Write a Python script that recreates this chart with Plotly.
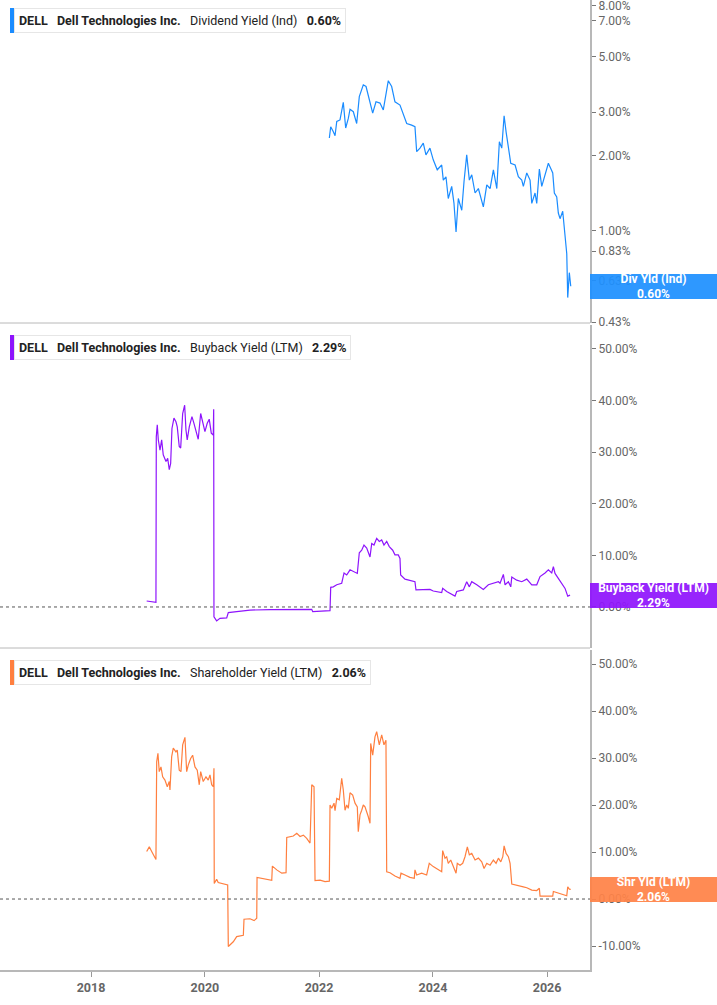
import math
import plotly.graph_objects as go
from datetime import datetime

# ---------------- data (decimal-year dates, values in %) ----------------
div_t = [2022.181, 2022.205, 2022.251, 2022.281, 2022.311, 2022.368, 2022.426, 2022.468, 2022.514, 2022.544,
         2022.602, 2022.661, 2022.707, 2022.777, 2022.825, 2022.865, 2022.942, 2023.000, 2023.070, 2023.128,
         2023.175, 2023.216, 2023.275, 2023.333, 2023.421, 2023.479, 2023.539, 2023.626, 2023.684, 2023.714,
         2023.772, 2023.830, 2023.877, 2023.947, 2024.005, 2024.075, 2024.153, 2024.181, 2024.228, 2024.268,
         2024.328, 2024.368, 2024.404, 2024.444, 2024.504, 2024.544, 2024.591, 2024.637, 2024.679, 2024.737,
         2024.795, 2024.882, 2024.942, 2025.000, 2025.058, 2025.118, 2025.163, 2025.205, 2025.246, 2025.281,
         2025.321, 2025.363, 2025.439, 2025.496, 2025.556, 2025.584, 2025.644, 2025.702, 2025.732, 2025.789,
         2025.819, 2025.865, 2025.907, 2025.965, 2026.023, 2026.065, 2026.100, 2026.128, 2026.170, 2026.198,
         2026.228, 2026.275, 2026.316, 2026.346, 2026.363, 2026.391, 2026.416]
div_v = [2.36, 2.62, 2.50, 2.41, 2.75, 2.79, 3.28, 2.59, 2.83, 3.08,
         3.01, 2.70, 3.46, 3.86, 3.80, 3.46, 2.97, 3.30, 3.26, 3.06,
         3.57, 4.01, 3.80, 3.30, 3.20, 2.92, 2.70, 2.66, 2.62, 2.08,
         2.15, 2.25, 2.02, 2.15, 1.93, 1.76, 1.84, 1.60, 1.65, 1.35,
         1.51, 1.29, 0.99, 1.35, 1.21, 1.58, 2.02, 1.60, 1.68, 1.42,
         1.48, 1.25, 1.53, 1.48, 1.76, 1.48, 2.28, 2.15, 2.90, 2.50,
         2.21, 1.87, 1.84, 1.65, 1.60, 1.51, 1.71, 1.60, 1.29, 1.42,
         1.29, 1.77, 1.51, 1.68, 1.87, 1.78, 1.71, 1.42, 1.37, 1.18,
         1.12, 1.20, 0.98, 0.81, 0.54, 0.68, 0.60]

bb_t = [2018.977, 2019.140, 2019.146, 2019.163, 2019.181, 2019.211, 2019.240, 2019.268, 2019.316, 2019.346,
        2019.374, 2019.398, 2019.421, 2019.456, 2019.491, 2019.514, 2019.549, 2019.574, 2019.609, 2019.644,
        2019.667, 2019.689, 2019.725, 2019.772, 2019.807, 2019.842, 2019.882, 2019.925, 2019.960, 2020.000,
        2020.040, 2020.075, 2020.111, 2020.146, 2020.153, 2020.158, 2020.205, 2020.263, 2020.381, 2020.409,
        2020.556, 2020.789, 2021.140, 2021.667, 2021.872, 2021.889, 2022.193, 2022.205, 2022.251, 2022.311,
        2022.398, 2022.439, 2022.486, 2022.544, 2022.632, 2022.672, 2022.707, 2022.749, 2022.789, 2022.837,
        2022.895, 2022.925, 2022.965, 2023.012, 2023.058, 2023.100, 2023.140, 2023.188, 2023.233, 2023.293,
        2023.333, 2023.391, 2023.421, 2023.433, 2023.509, 2023.596, 2023.684, 2023.702, 2023.830, 2023.947,
        2024.005, 2024.153, 2024.170, 2024.240, 2024.386, 2024.416, 2024.532, 2024.591, 2024.637, 2024.679,
        2024.767, 2024.882, 2024.970, 2025.058, 2025.146, 2025.175, 2025.233, 2025.263, 2025.321, 2025.363,
        2025.381, 2025.468, 2025.556, 2025.644, 2025.732, 2025.819, 2025.877, 2025.965, 2026.023, 2026.082,
        2026.111, 2026.140, 2026.198, 2026.258, 2026.316, 2026.363, 2026.404]
bb_v = [1.16, 0.9, 33.0, 35.3, 32.4, 30.4, 32.4, 29.5, 28.2, 28.8,
        26.6, 27.8, 34.6, 36.6, 35.9, 34.9, 31.1, 30.8, 37.5, 39.1,
        34.3, 32.4, 34.9, 36.9, 35.6, 34.0, 32.5, 37.5, 35.6, 34.0,
        35.6, 36.4, 33.7, 33.3, 38.3, -1.9, -2.7, -2.2, -2.1, -1.1,
        -0.9, -0.6, -0.5, -0.45, -0.45, -0.9, -0.7, 3.8, 3.9, 4.3,
        4.6, 6.6, 6.2, 7.2, 6.8, 6.5, 10.5, 11.0, 12.0, 11.4,
        9.7, 12.3, 12.0, 13.3, 12.7, 13.0, 12.0, 12.7, 11.7, 11.0,
        10.1, 10.1, 9.4, 6.2, 5.4, 5.2, 4.9, 3.3, 3.3, 3.4,
        3.1, 2.8, 3.6, 3.0, 2.1, 3.0, 3.3, 4.9, 3.9, 4.9,
        4.3, 3.4, 4.3, 4.6, 4.9, 4.6, 6.3, 4.3, 4.9, 3.9,
        5.8, 5.2, 4.9, 5.4, 4.3, 4.3, 5.9, 6.6, 7.2, 6.6,
        7.8, 6.5, 5.6, 4.6, 3.6, 2.1, 2.29]

sh_t = [2018.977, 2019.023, 2019.065, 2019.140, 2019.153, 2019.175, 2019.198, 2019.228, 2019.258, 2019.298,
        2019.339, 2019.374, 2019.386, 2019.416, 2019.444, 2019.491, 2019.514, 2019.549, 2019.579, 2019.609,
        2019.649, 2019.679, 2019.707, 2019.749, 2019.784, 2019.825, 2019.865, 2019.900, 2019.925, 2019.970,
        2020.018, 2020.058, 2020.088, 2020.118, 2020.146, 2020.158, 2020.163, 2020.205, 2020.232, 2020.321,
        2020.398, 2020.409, 2020.439, 2020.496, 2020.556, 2020.614, 2020.672, 2020.684, 2020.789, 2020.860,
        2020.907, 2020.912, 2021.023, 2021.170, 2021.181, 2021.258, 2021.346, 2021.421, 2021.433, 2021.549,
        2021.609, 2021.667, 2021.725, 2021.784, 2021.842, 2021.872, 2021.912, 2021.930, 2022.018, 2022.105,
        2022.181, 2022.193, 2022.223, 2022.263, 2022.281, 2022.311, 2022.356, 2022.398, 2022.426, 2022.456,
        2022.486, 2022.514, 2022.544, 2022.591, 2022.632, 2022.672, 2022.689, 2022.719, 2022.749, 2022.777,
        2022.807, 2022.837, 2022.865, 2022.895, 2022.907, 2022.942, 2022.982, 2023.012, 2023.058, 2023.100,
        2023.140, 2023.175, 2023.188, 2023.246, 2023.333, 2023.421, 2023.439, 2023.509, 2023.596, 2023.672,
        2023.684, 2023.714, 2023.802, 2023.889, 2023.935, 2024.005, 2024.093, 2024.153, 2024.170, 2024.211,
        2024.240, 2024.268, 2024.311, 2024.346, 2024.404, 2024.426, 2024.474, 2024.521, 2024.561, 2024.602,
        2024.637, 2024.679, 2024.737, 2024.795, 2024.854, 2024.895, 2024.942, 2025.000, 2025.058, 2025.105,
        2025.146, 2025.188, 2025.223, 2025.246, 2025.281, 2025.321, 2025.351, 2025.381, 2025.468, 2025.584,
        2025.644, 2025.732, 2025.819, 2025.865, 2025.877, 2025.995, 2026.100, 2026.111, 2026.228, 2026.346,
        2026.363, 2026.391, 2026.416]
sh_v = [10.1, 11.1, 10.1, 8.4, 29.2, 31.0, 27.1, 28.1, 26.0, 25.3,
        23.9, 25.0, 23.2, 30.3, 32.1, 31.3, 31.7, 27.4, 27.1, 32.8,
        34.4, 27.1, 28.5, 29.9, 30.6, 28.1, 27.4, 24.3, 27.1, 25.0,
        26.0, 25.3, 26.4, 24.3, 23.9, 27.8, 3.3, 4.2, 3.5, 3.3,
        3.0, -10.1, -9.8, -9.1, -8.0, -7.9, -7.7, -4.3, -4.2, -4.6,
        -4.1, 4.6, 4.4, 4.0, 7.0, 6.2, 5.5, 5.6, 13.1, 13.4,
        14.0, 13.3, 13.6, 12.9, 11.9, 24.3, 23.9, 3.9, 4.0, 3.7,
        3.8, 20.0, 19.3, 20.4, 18.8, 21.4, 21.1, 25.7, 23.2, 18.9,
        20.0, 19.3, 22.6, 22.1, 20.4, 19.6, 14.3, 17.9, 18.9, 20.0,
        19.6, 18.6, 17.5, 16.1, 33.1, 30.6, 34.5, 35.6, 32.8, 34.9,
        32.8, 33.8, 5.8, 5.6, 4.9, 4.4, 5.5, 5.1, 4.6, 4.4,
        6.2, 5.1, 5.5, 5.1, 7.6, 6.9, 6.2, 5.8, 10.3, 8.7,
        9.0, 7.6, 8.3, 7.2, 5.5, 7.6, 7.2, 7.6, 9.0, 11.1,
        9.4, 9.7, 8.3, 8.7, 7.9, 6.5, 7.6, 7.2, 8.3, 7.6,
        8.7, 7.9, 9.0, 11.3, 9.7, 9.0, 7.6, 3.2, 3.0, 2.6,
        2.4, 1.9, 1.8, 2.3, 0.6, 0.6, 0.6, 1.6, 1.2, 0.7,
        2.6, 2.1, 2.06]

div_ticks = [0.43, 0.63, 0.83, 1.0, 2.0, 3.0, 5.0, 7.0, 8.0]
lin_ticks2 = [0, 10, 20, 30, 40, 50]
lin_ticks3 = [-10, 0, 10, 20, 30, 40, 50]
year_ticks = [2018, 2020, 2022, 2024, 2026]

names = ["Dividend Yield (Ind)", "Buyback Yield (LTM)", "Shareholder Yield (LTM)"]
short_names = ["Div Yld (Ind)", "Buyback Yield (LTM)", "Shr Yld (LTM)"]
last_vals = [div_v[-1], bb_v[-1], sh_v[-1]]

# ---------------- styling ----------------
BLUE = "#1a8cff"
PURPLE = "#8e14fc"
ORANGE = "#ff7f3f"
BOX_COLORS = ["rgba(30,144,255,0.93)", "rgba(143,20,252,0.93)", "rgba(255,130,71,0.93)"]
AXIS_GRAY = "#b8b8b8"
TICK_FONT = dict(family="Roboto", size=12, color="#666666")

W, H = 717, 1005
PW, PH = 590, 970  # plot area in px


def to_date(v):
    y = int(v)
    a = datetime(y, 1, 1)
    b = datetime(y + 1, 1, 1)
    return a + (b - a) * (v - y)


def px(xp):
    return xp / PW


def py(yp):
    return (PH - yp) / PH


fig = go.Figure()
fig.add_trace(go.Scatter(x=[to_date(t) for t in div_t], y=div_v, mode="lines",
                         line=dict(color=BLUE, width=1.2), xaxis="x", yaxis="y", hoverinfo="skip"))
fig.add_trace(go.Scatter(x=[to_date(t) for t in bb_t], y=bb_v, mode="lines",
                         line=dict(color=PURPLE, width=1.2), xaxis="x", yaxis="y2", hoverinfo="skip"))
fig.add_trace(go.Scatter(x=[to_date(t) for t in sh_t], y=sh_v, mode="lines",
                         line=dict(color=ORANGE, width=1.2), xaxis="x", yaxis="y3", hoverinfo="skip"))

common_y = dict(side="right", anchor="x", showgrid=False, zeroline=False, showline=True,
                linecolor=AXIS_GRAY, linewidth=2, ticks="outside", ticklen=4, tickwidth=1,
                tickcolor="#777777", tickfont=TICK_FONT, fixedrange=True,
                ticklabeloverflow="allow")

fig.update_layout(
    width=W, height=H,
    margin=dict(l=0, r=W - PW, t=0, b=H - PH),
    paper_bgcolor="white", plot_bgcolor="white",
    showlegend=False,
    xaxis=dict(domain=[0, 1], anchor="y3", type="date",
               range=[to_date(2016.404), to_date(2026.754)],
               tickvals=[datetime(y, 1, 1) for y in year_ticks],
               ticktext=["<b>%d</b>" % y for y in year_ticks],
               ticks="outside", ticklen=5, tickcolor="#999999",
               showline=True, linecolor=AXIS_GRAY, linewidth=2, showgrid=False, zeroline=False,
               tickfont=dict(family="Roboto", size=12.5, color="#666666")),
    yaxis=dict(domain=[py(323), 1], type="log", range=[-0.3695, 0.927],
               tickvals=div_ticks, ticktext=["%.2f%%" % v for v in div_ticks], **common_y),
    yaxis2=dict(domain=[py(648), py(325)], range=[-7.95, 54.65],
                tickvals=lin_ticks2, ticktext=["%.2f%%" % v for v in lin_ticks2], **common_y),
    yaxis3=dict(domain=[0, py(650)], range=[-15.1, 52.98],
                tickvals=lin_ticks3, ticktext=["%.2f%%" % v for v in lin_ticks3], **common_y),
)

shapes = []
# panel separators
for yp in (323, 648):
    shapes.append(dict(type="line", xref="paper", yref="paper", x0=0, x1=1, y0=py(yp), y1=py(yp),
                       line=dict(color=AXIS_GRAY, width=1)))
# zero reference lines
for yr in ("y2", "y3"):
    shapes.append(dict(type="line", xref="paper", yref=yr, x0=0, x1=1, y0=0, y1=0,
                       line=dict(color="#555555", width=1, dash="dot")))

annotations = []
legend_pos = [(8, 33), (335, 360), (660, 685)]
line_colors = [BLUE, PURPLE, ORANGE]
sp = "\u00a0\u00a0\u00a0"
for i in range(3):
    top, bot = legend_pos[i]
    txt = ("<b>DELL</b>" + sp + "<b>Dell Technologies Inc.</b>" + sp + names[i] + sp +
           "<b>%.2f%%</b>" % last_vals[i])
    annotations.append(dict(xref="paper", yref="paper", x=px(14), y=py(top), xanchor="left", yanchor="top",
                            text=txt, showarrow=False, align="left",
                            font=dict(family="Roboto", size=12.5, color="#222222"),
                            bgcolor="white", bordercolor="#e6e6e6", borderwidth=1, borderpad=4))
    shapes.append(dict(type="rect", xref="paper", yref="paper", x0=px(10), x1=px(14),
                       y0=py(bot), y1=py(top), fillcolor=line_colors[i], line=dict(width=0), layer="above"))

# end-value labels on the right
label_refs = ["y", "y2", "y3"]
label_y = [math.log10(last_vals[0]), last_vals[1], last_vals[2]]
for i in range(3):
    annotations.append(dict(xref="paper", yref=label_refs[i], x=1, y=label_y[i],
                            xanchor="left", yanchor="middle", showarrow=False,
                            text="<b>%s</b><br><b>%.2f%%</b>" % (short_names[i], last_vals[i]),
                            font=dict(family="Roboto", size=12, color="white"),
                            bgcolor=BOX_COLORS[i], borderwidth=0, borderpad=0,
                            width=W - PW, height=25, align="center", valign="middle"))

fig.update_layout(shapes=shapes, annotations=annotations)
fig.write_html("out.html")
